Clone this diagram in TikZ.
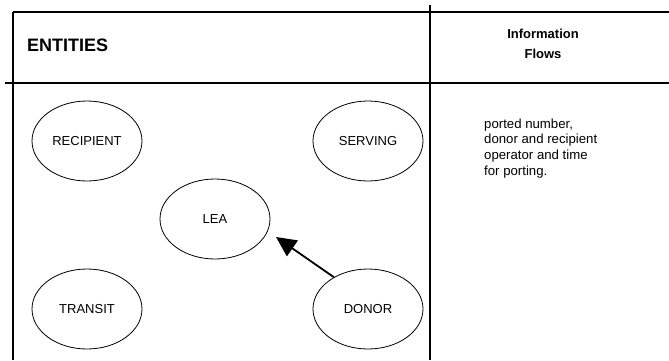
\documentclass[tikz,border=0pt]{standalone}
\usepackage{fontspec}
\setmainfont{Liberation Sans}
\usetikzlibrary{shapes.geometric,arrows.meta}
\begin{document}
\begin{tikzpicture}[x=1pt,y=-1pt,
  frame/.style={line width=1.4pt},
  entity/.style={ellipse,draw,line width=0.8pt,minimum width=110pt,minimum height=80pt,inner sep=0pt,
    font=\fontsize{13}{16}\selectfont},
  flow/.style={line width=1.8pt,-{Triangle[length=20pt,width=19pt]}},
  head/.style={inner sep=0pt,font=\bfseries\fontsize{18}{22}\selectfont},
  subhead/.style={inner sep=0pt,align=center,font=\bfseries\fontsize{13}{20}\selectfont},
  body/.style={inner sep=0pt,align=left,font=\fontsize{13.2}{15.7}\selectfont}]
\useasboundingbox (0,0) rectangle (669,360);

% table frame
\draw[frame] (13,12) -- (669,12);
\draw[frame] (13,12) -- (13,360);
\draw[frame] (5,83) -- (669,83);
\draw[frame] (430,5) -- (430,360);

% column headings
\node[head,anchor=base west] (entities) at (27,51) {ENTITIES};
\node[subhead,anchor=north] (flows) at (543,28.5) {Information\\Flows};

% entities
\node[entity] (recipient) at (87,141) {RECIPIENT};
\node[entity] (serving) at (368,141) {SERVING};
\node[entity] (lea) at (215,219) {LEA};
\node[entity] (transit) at (87,309) {TRANSIT};
\node[entity] (donor) at (368,309) {DONOR};

% information flow
\coordinate (tip) at (276,237);
\draw[flow] (donor.137) -- (tip);

\node[body,anchor=north west] (info) at (484,118.5)
  {ported number,\\donor and recipient\\operator and time\\for porting.};
\end{tikzpicture}
\end{document}
